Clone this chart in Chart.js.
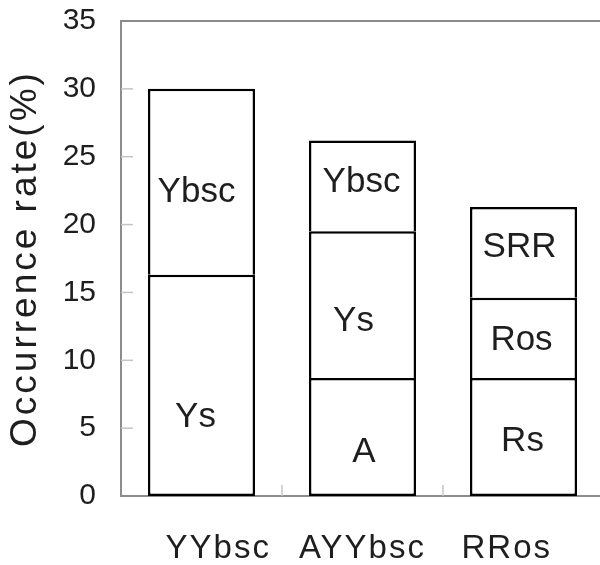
<!DOCTYPE html>
<html><head><meta charset="utf-8">
<script src="https://cdn.jsdelivr.net/npm/chart.js@4/dist/chart.umd.min.js"></script>
<style>
html,body{margin:0;padding:0;background:#fff;overflow:hidden;}
#wrap{width:620px;height:565px;}
</style></head><body>
<div id="wrap"><canvas id="c" width="620" height="565"></canvas></div>
<script>
// ---- data ----
const categories = ['YYbsc', 'AYYbsc', 'RRos'];
const level1Values = [16.3, 8.7, 8.7];
const level2Values = [13.7, 10.8, 5.9];
const level3Values = [null, 6.7, 6.7];
const level1Names = ['Ys', 'A', 'Rs'];
const level2Names = ['Ybsc', 'Ys', 'Ros'];
const level3Names = [null, 'Ybsc', 'SRR'];
const yTickValues = [0, 5, 10, 15, 20, 25, 30, 35];
const yTitle = 'Occurrence rate(%)';

// ---- style ----
const FONT = '"Liberation Sans", Arial, sans-serif';
const TEXT = '#1e1e1e';
const FRAME = '#8c8c8c';
const TICKC = '#c4c4c4';
const labelFrac = [[0.644, 0.628, 0.536], [0.558, 0.611, 0.53], [null, 0.46, 0.44]];
const labelDx = [[-6, 1.5, -1], [-5, -9, -2], [0, -1, -4]];
const xLabelPadSpaces = [[3, 0], [0, 0], [0, 3]]; // [leading, trailing]

const names = [level1Names, level2Names, level3Names];
const bw = 2.5;

const segLabels = {
  id: 'segLabels',
  afterDatasetsDraw(chart) {
    const ctx = chart.ctx;
    ctx.save();
    ctx.font = '35px ' + FONT;
    ctx.fillStyle = TEXT;
    ctx.textAlign = 'center';
    ctx.textBaseline = 'middle';
    names.forEach((arr, di) => {
      const meta = chart.getDatasetMeta(di);
      meta.data.forEach((el, j) => {
        if (!arr[j]) return;
        const top = Math.min(el.y, el.base), bot = Math.max(el.y, el.base);
        const y = top + labelFrac[di][j] * (bot - top);
        ctx.fillText(arr[j], el.x + labelDx[di][j], y);
      });
    });
    ctx.restore();
  }
};

const frame = {
  id: 'frame',
  beforeDatasetsDraw(chart) {
    const ctx = chart.ctx, a = chart.chartArea;
    const ys = chart.scales.y, xs = chart.scales.x;
    ctx.save();
    ctx.strokeStyle = FRAME; ctx.lineWidth = 2;
    ctx.beginPath(); ctx.moveTo(a.left - 1, a.top); ctx.lineTo(a.right, a.top); ctx.stroke();
    ctx.strokeStyle = TICKC; ctx.lineWidth = 1.5;
    yTickValues.forEach(v => {
      if (v === ys.min || v === ys.max) return;
      const py = ys.getPixelForValue(v);
      ctx.beginPath(); ctx.moveTo(a.left, py); ctx.lineTo(a.left + 12, py); ctx.stroke();
    });
    for (let i = 0; i < categories.length - 1; i++) {
      const px = (xs.getPixelForValue(i) + xs.getPixelForValue(i + 1)) / 2;
      ctx.beginPath(); ctx.moveTo(px, a.bottom); ctx.lineTo(px, a.bottom - 11); ctx.stroke();
    }
    ctx.restore();
  },
  afterLayout(chart) {
    const xs = chart.scales.x, ys = chart.scales.y;
    if (xs && !xs._lsWrapped) {
      const o = xs.drawLabels;
      xs.drawLabels = function (ca) { const c = this.ctx; c.letterSpacing = '2px'; o.call(this, ca); c.letterSpacing = '0px'; };
      xs._lsWrapped = true;
    }
    if (ys && !ys._lsWrapped) {
      const o = ys.drawTitle;
      ys.drawTitle = function (ca) { const c = this.ctx; c.letterSpacing = '3px'; o.call(this, ca); c.letterSpacing = '0px'; };
      ys._lsWrapped = true;
    }
  }
};

function ds(values, isBottom) {
  return {
    data: values,
    backgroundColor: '#ffffff',
    borderColor: '#000000',
    borderWidth: isBottom ? {top: bw, left: bw, right: bw, bottom: bw} : {top: bw, left: bw, right: bw, bottom: 0},
    borderSkipped: false,
    categoryPercentage: 1,
    barPercentage: 0.665
  };
}

new Chart(document.getElementById('c'), {
  type: 'bar',
  data: {
    labels: categories,
    datasets: [ds(level1Values, true), ds(level2Values, false), ds(level3Values, false)]
  },
  options: {
    responsive: false,
    animation: false,
    devicePixelRatio: 1,
    layout: {padding: {top: 0, right: 16, bottom: 0, left: 0}},
    plugins: {legend: {display: false}, tooltip: {enabled: false}},
    scales: {
      x: {
        stacked: true,
        grid: {display: false, drawTicks: false},
        border: {display: true, color: FRAME, width: 2},
        ticks: {
          font: {family: FONT, size: 33, lineHeight: 1},
          color: TEXT, padding: 36, maxRotation: 0, autoSkip: false,
          callback: (v, i) => ' '.repeat(xLabelPadSpaces[i][0]) + categories[i] + ' '.repeat(xLabelPadSpaces[i][1])
        },
        afterFit: s => { s.height = 69; s.paddingLeft = 0; s.paddingRight = 0; }
      },
      y: {
        stacked: true,
        min: 0, max: 35,
        afterBuildTicks: s => { s.ticks = yTickValues.map(v => ({value: v})); },
        grid: {display: false, drawTicks: false},
        border: {display: true, color: FRAME, width: 2},
        ticks: {font: {family: FONT, size: 30}, color: TEXT, padding: 25},
        title: {display: true, text: yTitle, font: {family: FONT, size: 37}, color: TEXT, padding: {top: 4, bottom: 0}},
        afterFit: s => { s.width = 121; s.paddingTop = 21; s.paddingBottom = 0; }
      }
    }
  },
  plugins: [frame, segLabels]
});
</script>
</body></html>
